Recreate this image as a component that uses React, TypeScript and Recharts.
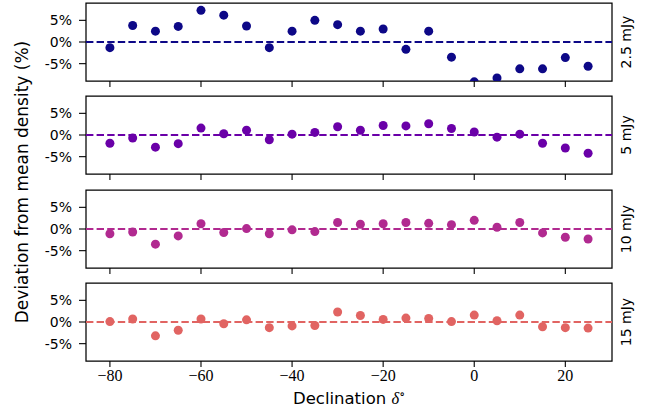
import {
  ReferenceArea,
  ReferenceLine,
  Scatter,
  ScatterChart,
  XAxis,
  YAxis,
} from "recharts";

// Four stacked panels: deviation of source density from the mean vs declination,
// one panel per flux threshold.

const DECLINATION = [
  -80, -75, -70, -65, -60, -55, -50, -45, -40, -35, -30, -25, -20, -15, -10, -5, 0, 5, 10, 15, 20, 25,
];
const DEV_2P5 = [
  -1.3, 3.8, 2.5, 3.6, 7.3, 6.2, 3.7, -1.3, 2.5, 5.0, 4.0, 2.5, 3.0, -1.7, 2.5, -3.5, -9.2, -8.3, -6.2, -6.2, -3.6, -5.6,
];
const DEV_5 = [
  -1.9, -0.7, -2.8, -2.0, 1.6, 0.3, 1.1, -1.1, 0.2, 0.6, 1.9, 1.1, 2.2, 2.1, 2.6, 1.5, 0.7, -0.5, 0.2, -1.9, -3.0, -4.2,
];
const DEV_10 = [
  -1.1, -0.7, -3.5, -1.6, 1.2, -0.8, 0.1, -1.1, -0.2, -0.6, 1.5, 1.1, 1.2, 1.5, 1.3, 1.0, 2.0, 0.4, 1.5, -0.9, -1.9, -2.3,
];
const DEV_15 = [
  0.1, 0.7, -3.2, -1.9, 0.7, -0.4, 0.5, -1.3, -0.9, -0.8, 2.3, 1.5, 0.6, 0.9, 0.8, 0.1, 1.6, 0.3, 1.6, -1.1, -1.3, -1.4,
];

const X_TICKS = [-80, -60, -40, -20, 0, 20];
const Y_TICKS = [-5, 0, 5];
const X_DOMAIN: [number, number] = [-85.25, 30.25];
const Y_DOMAIN: [number, number] = [-9, 9];

const PANELS = [
  { label: "2.5 mJy", color: "#0d0887", values: DEV_2P5 },
  { label: "5 mJy", color: "#6a00a8", values: DEV_5 },
  { label: "10 mJy", color: "#b12a90", values: DEV_10 },
  { label: "15 mJy", color: "#e16462", values: DEV_15 },
];

const PLOT_LEFT = 86;
const PLOT_RIGHT = 612;
const PLOT_H = 78;
const PANEL_TOPS = [3, 96, 190, 283];
const PAD = 3;

const SANS = "DejaVu Sans, sans-serif";
const SERIF = "'Liberation Serif', 'DejaVu Serif', serif";

function fmtX(v: number): string {
  return v < 0 ? `\u2212${-v}` : `${v}`;
}
function fmtY(v: number): string {
  return `${v}%`;
}

// x tick labels drawn by hand so the serif (math-style) font sticks
function XTick(props: any) {
  const { x, y, payload } = props;
  return (
    <text
      x={x}
      y={y + 12}
      textAnchor="middle"
      fontFamily={SERIF}
      fontSize={16}
      fill="#000"
    >
      {fmtX(payload.value)}
    </text>
  );
}

function Panel({
  values,
  color,
  top,
  last,
}: {
  values: number[];
  color: string;
  top: number;
  last: boolean;
}) {
  const data = DECLINATION.map((d, i) => ({ dec: d, dev: values[i] }));
  const xh = last ? 40 : 10;
  return (
    <div style={{ position: "absolute", left: 0, top: top - PAD }}>
      <ScatterChart
        width={662}
        height={PAD + PLOT_H + xh}
        margin={{ top: PAD, right: 662 - PLOT_RIGHT, bottom: 0, left: 0 }}
      >
        <XAxis
          type="number"
          dataKey="dec"
          domain={X_DOMAIN}
          ticks={X_TICKS}
          allowDataOverflow
          height={xh}
          tickSize={6}
          tickMargin={2}
          tickLine={{ stroke: "#000", strokeWidth: 1.1 }}
          axisLine={false}
          tick={last ? <XTick /> : () => <g />}
        />
        <YAxis
          type="number"
          dataKey="dev"
          domain={Y_DOMAIN}
          ticks={Y_TICKS}
          allowDataOverflow
          width={PLOT_LEFT}
          tickSize={7}
          tickMargin={7}
          tickLine={{ stroke: "#000", strokeWidth: 1.1 }}
          axisLine={false}
          tick={{ fill: "#000", fontSize: 14, fontFamily: SANS }}
          tickFormatter={fmtY}
        />
        <ReferenceLine
          y={0}
          stroke={color}
          strokeWidth={2.2}
          strokeDasharray="7.4 3.2"
        />
        <Scatter
          data={data}
          fill={color}
          isAnimationActive={false}
          shape={(p: any) => <circle cx={p.cx} cy={p.cy} r={4.5} fill={color} />}
        />
        <ReferenceArea
          x1={X_DOMAIN[0]}
          x2={X_DOMAIN[1]}
          y1={Y_DOMAIN[0]}
          y2={Y_DOMAIN[1]}
          fill="none"
          fillOpacity={0}
          stroke="#000"
          strokeWidth={1.25}
        />
      </ScatterChart>
    </div>
  );
}

export default function App() {
  const plotMid = (PANEL_TOPS[0] + PANEL_TOPS[3] + PLOT_H) / 2;
  return (
    <div
      style={{
        position: "absolute",
        left: 0,
        top: 0,
        width: 662,
        height: 420,
        background: "#fff",
      }}
    >
      {PANELS.map((p, i) => (
        <Panel
          key={p.label}
          values={p.values}
          color={p.color}
          top={PANEL_TOPS[i]}
          last={i === PANELS.length - 1}
        />
      ))}
      <svg
        width={662}
        height={420}
        style={{ position: "absolute", left: 0, top: 0, pointerEvents: "none" }}
      >
        <text
          transform={`translate(22, ${plotMid}) rotate(-90)`}
          textAnchor="middle"
          dominantBaseline="central"
          fontFamily={SANS}
          fontSize={17}
          fill="#000"
        >
          Deviation from mean density (%)
        </text>
        <text
          x={(PLOT_LEFT + PLOT_RIGHT) / 2}
          y={404}
          textAnchor="middle"
          fontFamily={SANS}
          fontSize={16.5}
          fill="#000"
        >
          Declination{" "}
          <tspan fontFamily={SERIF} fontStyle="italic">
            δ
          </tspan>
          <tspan fontFamily={SERIF} dy={-6} fontSize={12}>
            ∘
          </tspan>
        </text>
        {PANELS.map((p, i) => (
          <text
            key={p.label}
            transform={`translate(626, ${PANEL_TOPS[i] + PLOT_H / 2}) rotate(-90)`}
            textAnchor="middle"
            dominantBaseline="central"
            fontFamily={SANS}
            fontSize={14}
            fill="#000"
          >
            {p.label}
          </text>
        ))}
      </svg>
    </div>
  );
}
